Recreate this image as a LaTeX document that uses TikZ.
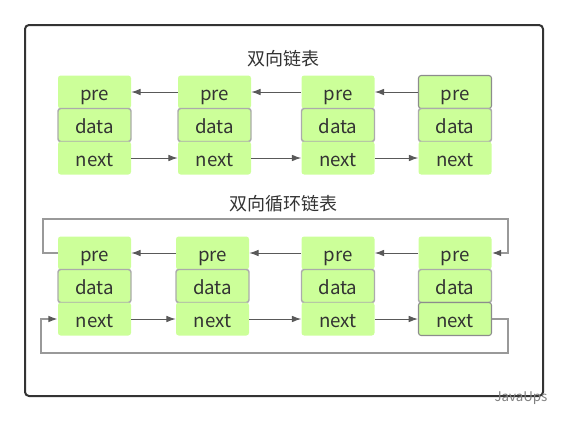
\documentclass[tikz,border=0pt]{standalone}
\usepackage{fontspec}
\setmainfont{Noto Sans CJK SC}
\usetikzlibrary{arrows.meta}
\definecolor{cellgreen}{HTML}{CCFF99}
\definecolor{txt}{HTML}{333333}
\tikzstyle{lists}=[x=0.75pt, y=-0.75pt, font=\fontsize{14}{16}\selectfont, text=txt]
\tikzstyle{cell}=[rectangle, rounded corners=2pt, fill=cellgreen, inner sep=0pt, text height=1.3em, text depth=0.1em, minimum width=54.75pt, minimum height=24.75pt]
\tikzstyle{dcell}=[cell, draw=black!33, line width=1.1pt]
\tikzstyle{bcell}=[cell, draw=black!45, line width=0.8pt]
\tikzstyle{title}=[font=\fontsize{13.5}{15}\selectfont]
\tikzstyle{frame}=[draw=black!80, line width=1.5pt, rounded corners=3pt]
\tikzstyle{edge}=[draw=black!65, line width=0.75pt, -{Latex[length=7pt,width=5pt]}]
\tikzstyle{loop}=[draw=black!40, line width=1.1pt, -{Latex[length=7pt,width=5pt,color=black!65]}]
\tikzstyle{wmark}=[font=\fontsize{10}{11}\selectfont\itshape, text=black!50]
\newcommand{\rowA}{92}
\newcommand{\rowB}{253}
\newcommand{\cellH}{33}

\begin{document}
\begin{tikzpicture}[lists]
	\useasboundingbox (0,0) rectangle (568,422);
	\draw[frame] (25,25) rectangle (543,396);
	
	%% doubly linked list
	\node[title] (t1) at (283,59) {双向链表};
	\draw (94.5,\rowA) node[cell] (p1) {pre};
	\draw (94.5,\rowA+\cellH) node[dcell] (d1) {data};
	\draw (94.5,\rowA+2*\cellH) node[cell] (n1) {next};
	%%
	\draw (214.5,\rowA) node[cell] (p2) {pre};
	\draw (214.5,\rowA+\cellH) node[dcell] (d2) {data};
	\draw (214.5,\rowA+2*\cellH) node[cell] (n2) {next};
	%%
	\draw (338,\rowA) node[cell] (p3) {pre};
	\draw (338,\rowA+\cellH) node[dcell] (d3) {data};
	\draw (338,\rowA+2*\cellH) node[cell] (n3) {next};
	%%
	\draw (455,\rowA) node[bcell] (p4) {pre};
	\draw (455,\rowA+\cellH) node[dcell] (d4) {data};
	\draw (455,\rowA+2*\cellH) node[cell] (n4) {next};
	%%
	\draw[edge] (p2) -- (p1);
	\draw[edge] (p3) -- (p2);
	\draw[edge] (p4) -- (p3);
	\draw[edge] (n1) -- (n2);
	\draw[edge] (n2) -- (n3);
	\draw[edge] (n3) -- (n4);
	
	%%%%
	%% circular doubly linked list
	\node[title] (t2) at (283,204) {双向循环链表};
	\draw (94.5,\rowB) node[cell] (cp1) {pre};
	\draw (94.5,\rowB+\cellH) node[dcell] (cd1) {data};
	\draw (94.5,\rowB+2*\cellH) node[cell] (cn1) {next};
	%%
	\draw (212.5,\rowB) node[cell] (cp2) {pre};
	\draw (212.5,\rowB+\cellH) node[dcell] (cd2) {data};
	\draw (212.5,\rowB+2*\cellH) node[cell] (cn2) {next};
	%%
	\draw (338,\rowB) node[cell] (cp3) {pre};
	\draw (338,\rowB+\cellH) node[dcell] (cd3) {data};
	\draw (338,\rowB+2*\cellH) node[cell] (cn3) {next};
	%%
	\draw (455,\rowB) node[cell] (cp4) {pre};
	\draw (455,\rowB+\cellH) node[dcell] (cd4) {data};
	\draw (455,\rowB+2*\cellH) node[bcell] (cn4) {next};
	%%
	\draw[edge] (cp2) -- (cp1);
	\draw[edge] (cp3) -- (cp2);
	\draw[edge] (cp4) -- (cp3);
	\draw[edge] (cn1) -- (cn2);
	\draw[edge] (cn2) -- (cn3);
	\draw[edge] (cn3) -- (cn4);
	%%
	\coordinate (tl) at (43,219);
	\coordinate (tr) at (508,219);
	\coordinate (bl) at (41,353);
	\coordinate (br) at (508,353);
	\draw[loop] (cp1.west) -| (tl) -- (tr) |- (cp4.east);
	\draw[loop] (cn4.east) -| (br) -- (bl) |- (cn1.west);
	
	\node[wmark] (wm) at (521,398) {JavaUps};
\end{tikzpicture}
\end{document}
